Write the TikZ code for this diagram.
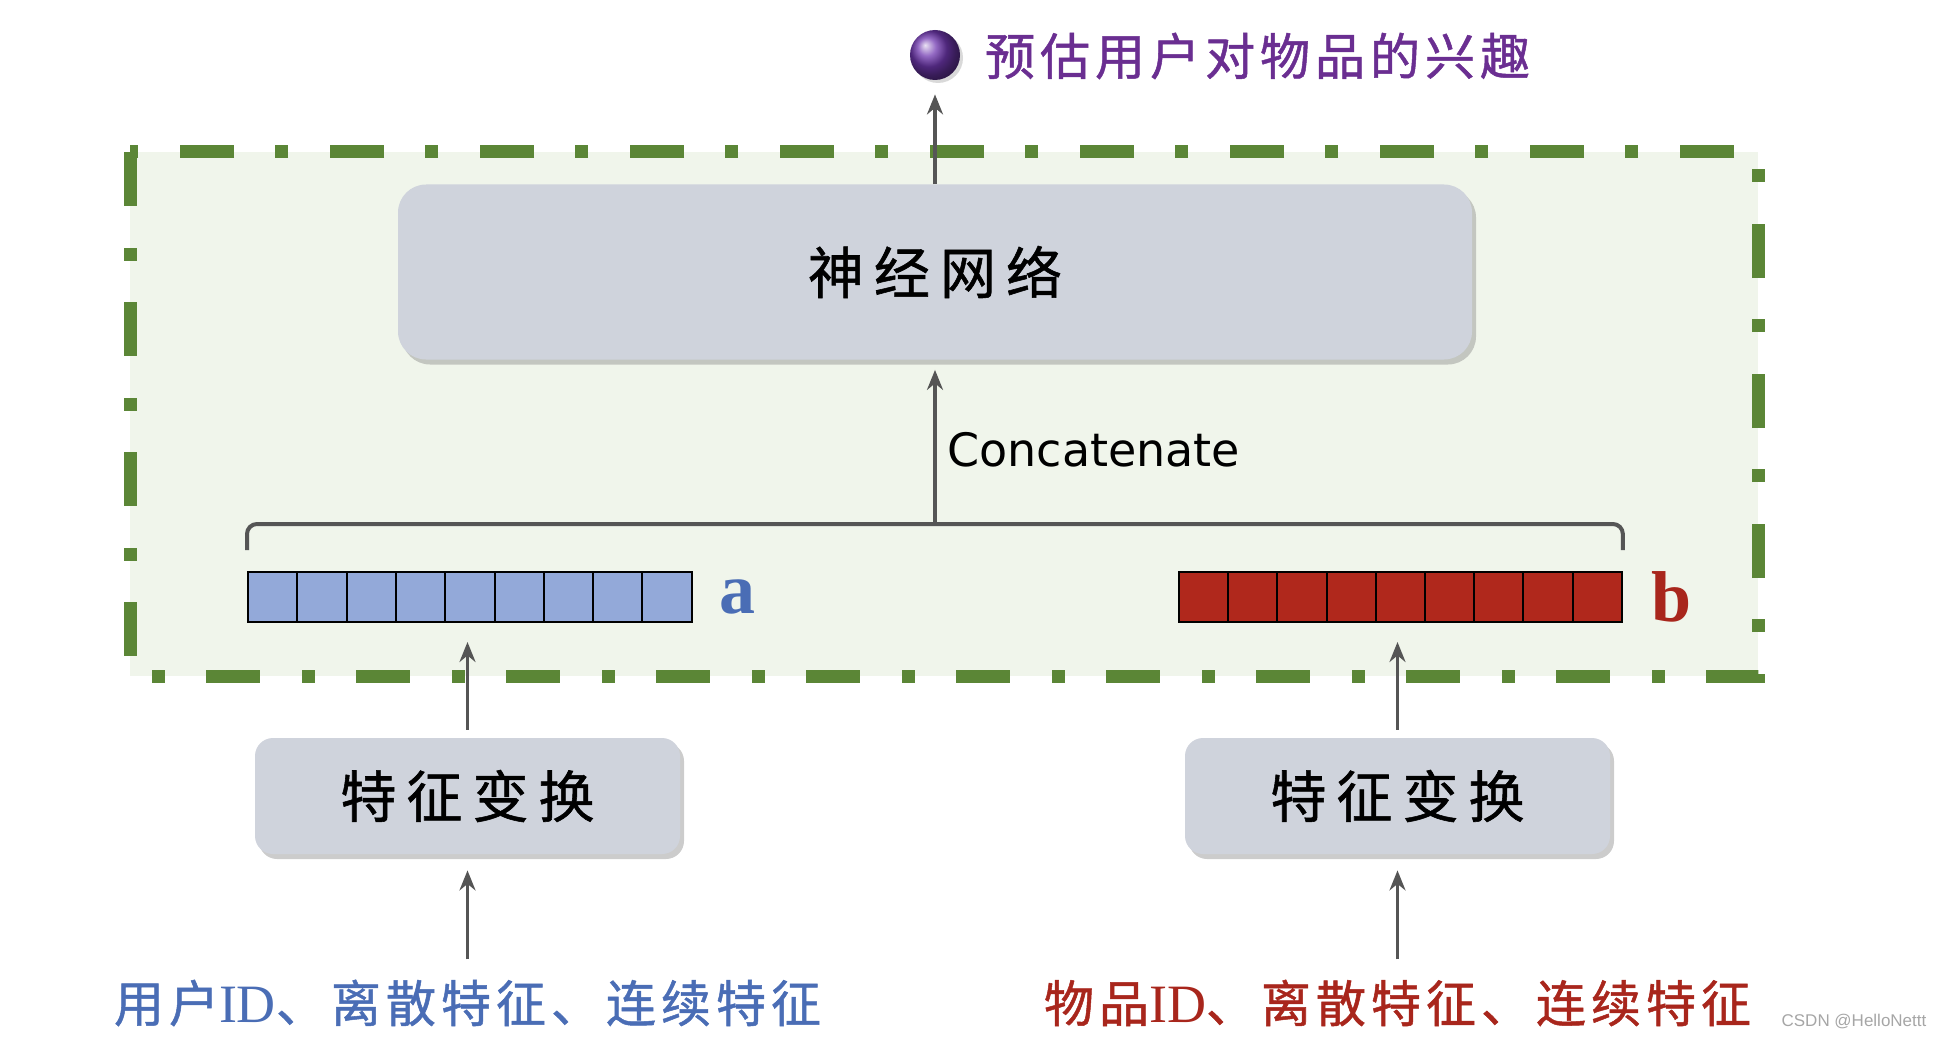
\documentclass[tikz,border=0pt]{standalone}
\usepackage{fontspec}
\usepackage{tikz}
\usetikzlibrary{arrows.meta, positioning, calc, shadows}
\usepackage{xcolor}
\newfontfamily\cjk[LetterSpace=10, FakeBold=1]{Noto Sans CJK SC}
\newfontfamily\cjkwide[LetterSpace=18, FakeBold=1]{Noto Sans CJK SC}
\newfontfamily\catfont{DejaVu Sans}
\newfontfamily\vecfont{Liberation Serif}
\newfontfamily\markfont{Liberation Sans}
\definecolor{frameg}{HTML}{5B8636}
\definecolor{framebg}{HTML}{F0F5EB}
\definecolor{boxgray}{HTML}{CFD3DC}
\definecolor{cellblue}{HTML}{93A9D9}
\definecolor{cellred}{HTML}{B0281C}
\definecolor{textblue}{HTML}{4A6DB5}
\definecolor{textred}{HTML}{A8261C}
\definecolor{textpurple}{HTML}{6A2E91}
\definecolor{ballpurple}{HTML}{7038B0}
\definecolor{arrowgray}{HTML}{555555}

\begin{document}
\begin{tikzpicture}[
    x=0.5pt, y=-0.5pt,
    >={Stealth[length=10pt, width=8pt]},
    dashframe/.style={draw=frameg, fill=framebg, line width=6.5pt,
                      dash pattern=on 27pt off 21pt on 6.5pt off 20.5pt},
    graybox/.style={rectangle, rounded corners=9pt, fill=boxgray, align=center,
                    font=\cjkwide\fontsize{28pt}{32pt}\selectfont,
                    drop shadow={shadow xshift=2pt, shadow yshift=-2.5pt, opacity=0.4}},
    cella/.style={draw=black, line width=1pt, fill=cellblue,
                  minimum width=24.65pt, minimum height=25pt, inner sep=0pt},
    cellb/.style={cella, fill=cellred},
    veclabel/.style={font=\vecfont\bfseries\fontsize{36pt}{40pt}\selectfont, inner sep=0pt},
    intext/.style={font=\cjk\fontsize{25pt}{30pt}\selectfont, inner sep=2pt},
    conn/.style={->, line width=1.6pt, draw=arrowgray},
    bracket/.style={draw=arrowgray, line width=2pt, rounded corners=5pt}
]
\useasboundingbox (0,0) rectangle (1934,1038);

% dashed frame round the model
\draw[dashframe] (130,152) rectangle (1758,676);

\node[graybox, rounded corners=14pt, minimum width=537pt, minimum height=87.5pt] (nn) at (935,272) {神经网络};
\node[circle, minimum size=25pt, inner sep=0pt, ball color=ballpurple,
      drop shadow={shadow xshift=1.5pt, shadow yshift=-1.5pt, opacity=0.3}] (ball) at (935,55) {};
\node[anchor=west, text=textpurple, font=\cjk\fontsize{25pt}{30pt}\selectfont] (goal) at (978,56) {预估用户对物品的兴趣};

% the two embedding vectors
\foreach \i in {1,...,9} {
  \node[cella] (a\i) at ({248+49.3*\i-24.65}, 597) {};
  \node[cellb] (b\i) at ({1179+49.2*\i-24.6}, 597) {};
}
\node[veclabel, text=textblue, right=13pt of a9] (la) {a};
\node[veclabel, text=textred, right=14pt of b9] (lb) {b};

\coordinate (cat) at (935,524);
\draw[bracket] ([yshift=10.5pt]a1.north west) |- (cat) -| ([yshift=10.5pt]b9.north east);
\draw[conn, shorten >=5pt] (cat) -- node[pos=0.45, right=2pt, font=\catfont\fontsize{23pt}{27pt}\selectfont] (catlbl) {Concatenate} (nn.south);
\draw[conn, shorten >=7pt] (nn.north) -- (ball.south);

\node[graybox, minimum width=212.5pt, minimum height=58pt] (fa) at (467.5,796) {特征变换};
\node[graybox, minimum width=212.5pt, minimum height=58pt] (fb) at (1397.5,796) {特征变换};

\draw[conn, shorten <=4pt, shorten >=9.5pt] (fa.north) -- (fa.north |- a5.south);
\draw[conn, shorten <=4pt, shorten >=9.5pt] (fb.north) -- (fb.north |- b5.south);

\node[intext, text=textblue] (ua) at (467.5,1003) {用户{\vecfont\fontsize{27pt}{30pt}\selectfont ID}、离散特征、连续特征};
\node[intext, text=textred] (ub) at (1397.5,1003) {物品{\vecfont\fontsize{27pt}{30pt}\selectfont ID}、离散特征、连续特征};

\draw[conn, shorten <=8pt, shorten >=8pt] (ua.north) -- (fa.south);
\draw[conn, shorten <=8pt, shorten >=8pt] (ub.north) -- (fb.south);

\node[text=gray!70, font=\markfont\fontsize{8.5pt}{10pt}\selectfont] (mark) at (1854,1022) {CSDN @HelloNettt};
\end{tikzpicture}
\end{document}
